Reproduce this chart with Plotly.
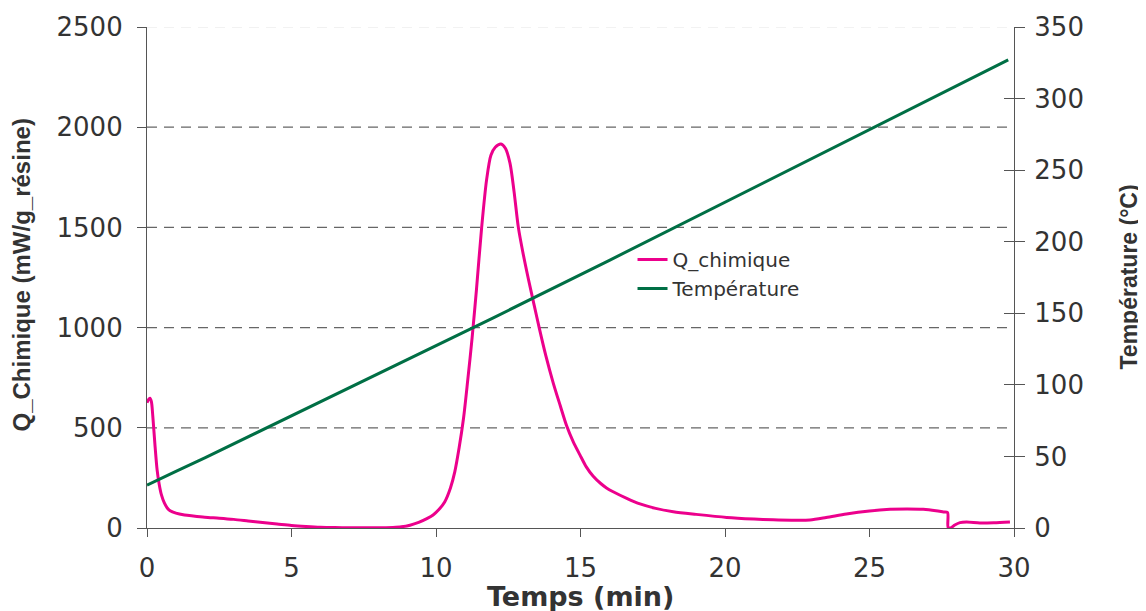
import plotly.graph_objects as go

# ---- data ----
time_q = [0.0, 0.05, 0.1, 0.15, 0.2, 0.28, 0.35, 0.42, 0.5, 0.6, 0.7, 0.8, 1.0, 1.3, 1.6,
          2.0, 2.5, 3.0, 3.5, 4.0, 4.5, 5.0, 5.5, 6.0, 6.5, 7.0, 7.5, 8.0, 8.5, 8.8,
          9.1, 9.4, 9.7, 9.9, 10.1, 10.3, 10.5, 10.65, 10.8, 10.95, 11.1, 11.25, 11.4,
          11.58, 11.75, 11.9, 12.05, 12.25, 12.4, 12.56, 12.7, 12.85, 13.0, 13.2, 13.4, 13.57,
          13.8, 14.06, 14.3, 14.52, 14.75, 14.98, 15.2, 15.44, 15.7, 15.9, 16.13, 16.6, 17.06,
          17.6, 18.21, 19.0, 20.06, 21.0, 21.67, 22.3, 22.94, 23.5, 24.2, 25.0, 25.71, 26.3,
          26.86, 27.3, 27.56, 27.7, 27.72, 27.8, 27.95, 28.13, 28.36, 28.82, 29.3, 29.86]
q_chimique = [625, 640, 648, 632, 560, 406, 290, 220, 165, 125, 100, 86, 74, 65, 60,
              54, 49, 43, 35, 27, 20, 13, 8, 4, 2, 1, 1, 1, 3, 6,
              14, 28, 48, 65, 92, 130, 200, 280, 400, 545, 740, 950, 1190,
              1500, 1737, 1860, 1900, 1916, 1895, 1821, 1680, 1500, 1380, 1240, 1110, 1000,
              860, 722, 610, 510, 430, 365, 305, 258, 222, 200, 181, 148, 120,
              98, 81, 68, 53, 45, 41, 39, 40, 52, 70, 85, 93, 95,
              93, 86, 80, 77, 3, 0, 15, 27, 30, 25, 26, 30]

time_t = [0, 0.5, 1, 2, 4, 8, 12, 16, 20, 24, 28, 29.8]
temperature = [30, 34.5, 39.5, 49, 68.5, 107.5, 147, 187, 227.5, 268, 308.5, 327]

x_ticks = [0, 5, 10, 15, 20, 25, 30]
q_ticks = [0, 500, 1000, 1500, 2000, 2500]
t_ticks = [0, 50, 100, 150, 200, 250, 300, 350]
grid_values = [500, 1000, 1500, 2000]

PINK = "#EC008C"
GREEN = "#006F45"
AX = "#555555"
TXT = "#333333"
FONT = "DejaVu Sans"
BOLD_ROT = "Liberation Sans"

fig = go.Figure()
fig.add_trace(go.Scatter(x=time_q, y=q_chimique, name="Q_chimique", mode="lines",
                         line=dict(color=PINK, width=3, shape="spline", smoothing=0.8),
                         yaxis="y"))
fig.add_trace(go.Scatter(x=time_t, y=temperature, name="Température", mode="lines",
                         line=dict(color=GREEN, width=3), yaxis="y2"))

shapes = []
for g in grid_values:
    shapes.append(dict(type="line", xref="paper", x0=0, x1=1, yref="y", y0=g, y1=g,
                       line=dict(color="#666666", width=1.2, dash="10px,7px"), layer="below"))
shapes.append(dict(type="line", xref="paper", x0=0, x1=1, yref="y", y0=2500, y1=2500,
                   line=dict(color="#e6e6e6", width=1, dash="10px,7px"), layer="below"))

fig.update_layout(
    width=1138, height=603,
    margin=dict(l=139, r=132, t=19, b=83, autoexpand=False),
    paper_bgcolor="white", plot_bgcolor="white",
    font=dict(family=FONT, color=TXT),
    showlegend=True,
    legend=dict(x=0.56, xanchor="left", y=0.575, yanchor="top",
                font=dict(family=FONT, size=20, color=TXT),
                bgcolor="rgba(0,0,0,0)", itemwidth=30, tracegroupgap=0),
    shapes=shapes,
    xaxis=dict(range=[0, 30], tickvals=x_ticks, ticks="outside", ticklen=8, tickcolor=AX,
               showline=True, linecolor=AX, linewidth=1.2, showgrid=False, zeroline=False,
               tickfont=dict(family=FONT, size=26, color=TXT), ticklabelstandoff=9),
    yaxis=dict(range=[0, 2500], tickvals=q_ticks, ticks="outside", ticklen=9, tickcolor=AX,
               showline=True, linecolor=AX, linewidth=1.2, showgrid=False, zeroline=False,
               tickfont=dict(family=FONT, size=26, color=TXT), ticklabelstandoff=9),
    yaxis2=dict(range=[0, 350], tickvals=t_ticks, ticks="outside", ticklen=10, tickcolor=AX,
                overlaying="y", side="right", anchor="x",
                showline=True, linecolor=AX, linewidth=1.2, showgrid=False, zeroline=False,
                tickfont=dict(family=FONT, size=26, color=TXT), ticklabelstandoff=4),
    yaxis3=dict(range=[0, 350], tickvals=t_ticks, ticks="inside", ticklen=10, tickcolor=AX,
                overlaying="y", side="right", anchor="x", showticklabels=False,
                showline=False, showgrid=False, zeroline=False),
    annotations=[
        dict(text="<b>Temps (min)</b>", xref="paper", yref="paper", x=0.5, y=0,
             xanchor="center", yanchor="middle", yshift=-68, showarrow=False,
             font=dict(family=FONT, size=27, color=TXT)),
        dict(text="<b>Q_Chimique (mW/g_résine)</b>", xref="paper", yref="paper", x=0, y=0.5,
             xanchor="center", yanchor="middle", xshift=-126, yshift=2, textangle=-90,
             showarrow=False, font=dict(family=BOLD_ROT, size=24, color=TXT)),
        dict(text="<b>Température (°C)</b>", xref="paper", yref="paper", x=1, y=0.5,
             xanchor="center", yanchor="middle", xshift=114, yshift=0, textangle=-90,
             showarrow=False, font=dict(family=BOLD_ROT, size=23, color=TXT)),
    ],
)
# invisible helper trace activating yaxis3 (crossing ticks on the right axis)
fig.add_trace(go.Scatter(x=[None], y=[None], yaxis="y3", showlegend=False, hoverinfo="skip"))

fig.write_html("out.html")
